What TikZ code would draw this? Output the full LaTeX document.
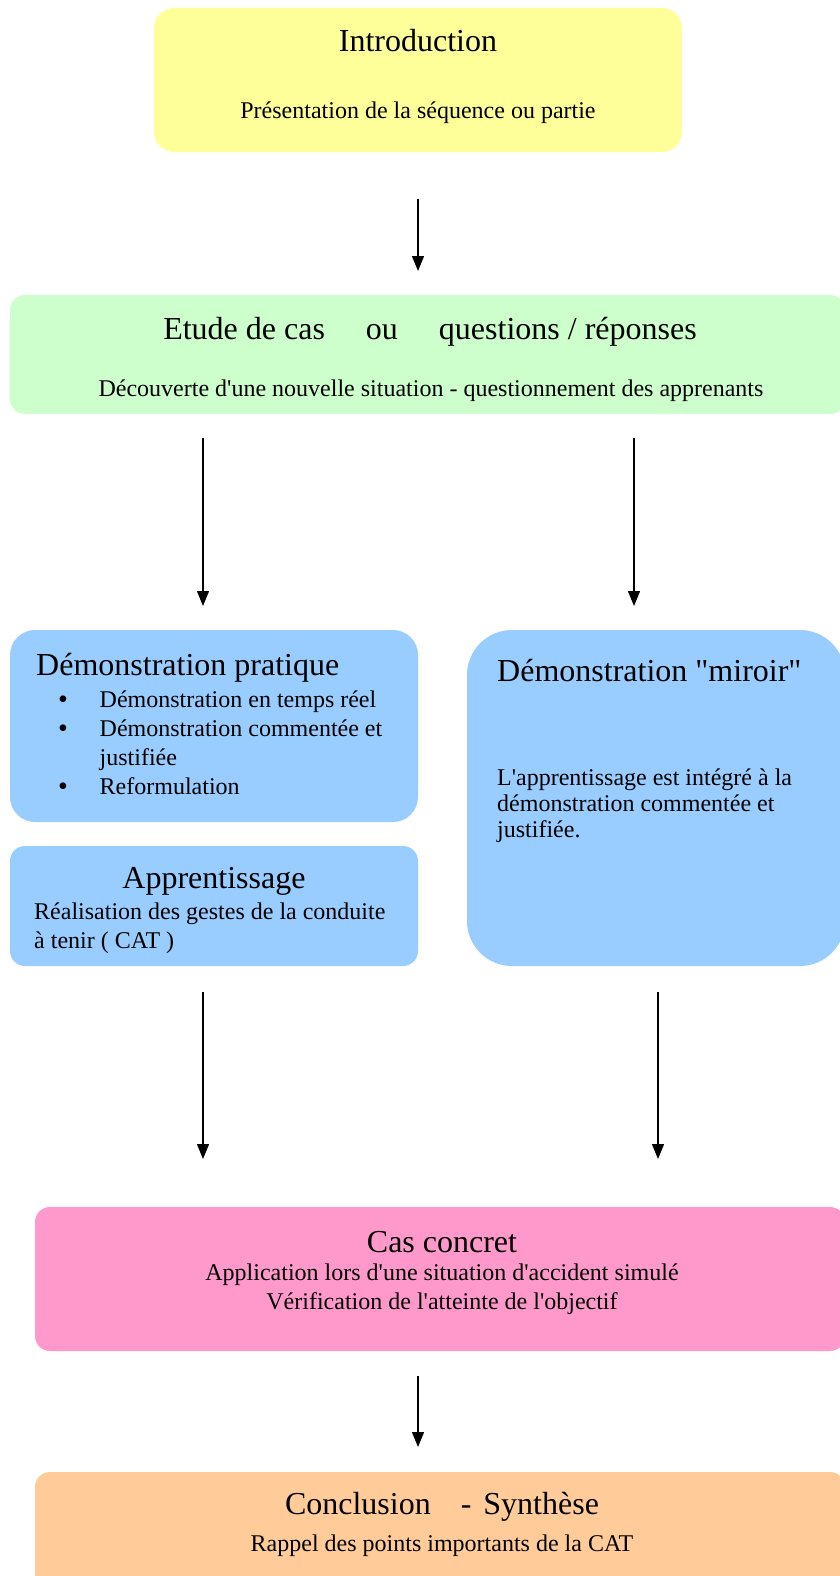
\documentclass[tikz,border=0pt]{standalone}
\usepackage{fontspec}
\setmainfont{Liberation Serif}[Ligatures=TeXOff]
\usetikzlibrary{arrows.meta,calc}
\definecolor{cyellow}{HTML}{FFFF99}
\definecolor{cgreen}{HTML}{CCFFCC}
\definecolor{cblue}{HTML}{99CCFF}
\definecolor{cpink}{HTML}{FF99CC}
\definecolor{corange}{HTML}{FFCC99}
\begin{document}
\begin{tikzpicture}[x=1pt,y=-1pt,
  box/.style={draw=none, rectangle, inner sep=0pt, outer sep=0pt},
  big/.style={font=\fontsize{32}{38}\selectfont, inner sep=0pt},
  small/.style={font=\fontsize{24}{29}\selectfont, inner sep=0pt},
  bul/.style={font=\fontsize{28}{29}\selectfont, inner sep=0pt, anchor=base},
  arr/.style={line width=1.3pt, -{Triangle[length=15pt,width=12pt]}}]
\useasboundingbox (0,0) rectangle (840,1576);
% boxes
\node[box, fill=cyellow, rounded corners=20pt, minimum width=528pt, minimum height=144pt] (intro) at (418,80) {};
\node[box, fill=cgreen, rounded corners=15pt, minimum width=835pt, minimum height=119pt] (etude) at (427.5,354.5) {};
\node[box, fill=cblue, rounded corners=25pt, minimum width=408pt, minimum height=192pt] (demo) at (214,726) {};
\node[box, fill=cblue, rounded corners=15pt, minimum width=408pt, minimum height=120pt] (appr) at (214,906) {};
\node[box, fill=cblue, rounded corners=45pt, minimum width=378pt, minimum height=336pt] (miroir) at (656,798) {};
\node[box, fill=cpink, rounded corners=15pt, minimum width=810pt, minimum height=144pt] (cas) at (440,1279) {};
\node[box, fill=corange, rounded corners=15pt, minimum width=810pt, minimum height=140pt] (concl) at (440,1542) {};
% texts
\node[big, anchor=base] (t1) at (418,52) {Introduction};
\node[small, anchor=base] (t2) at (418,118) {Présentation de la séquence ou partie};
\node[big, anchor=base] (t3) at (430,339) {Etude de cas\hspace{41pt}ou\hspace{41pt}questions / réponses};
\node[small, anchor=base] (t4) at (431,396) {Découverte d'une nouvelle situation - questionnement des apprenants};
\node[big, anchor=base west] (t5) at (36,675) {Démonstration pratique};
\node[bul] (b1) at (63,708) {•};
\node[bul] (b2) at (63,737) {•};
\node[bul] (b3) at (63,795) {•};
\node[small, anchor=base west] (l1) at (99.5,707) {Démonstration en temps réel};
\node[small, anchor=base west] (l2) at (99.5,736) {Démonstration commentée et};
\node[small, anchor=base west] (l3) at (99.5,765) {justifiée};
\node[small, anchor=base west] (l4) at (99.5,794) {Reformulation};
\node[big, anchor=base] (t6) at (214,888) {Apprentissage};
\node[small, anchor=base west] (l5) at (34,919) {Réalisation des gestes de la conduite};
\node[small, anchor=base west] (l6) at (34,948) {à tenir ( CAT )};
\node[big, anchor=base west] (t7) at (497,681) {Démonstration "miroir"};
\node[small, anchor=base west] (l7) at (497,785) {L'apprentissage est intégré à la};
\node[small, anchor=base west] (l8) at (497,811) {démonstration commentée et};
\node[small, anchor=base west] (l9) at (497,837) {justifiée.};
\node[big, anchor=base] (t8) at (442,1252) {Cas concret};
\node[small, anchor=base] (l10) at (442,1280) {Application lors d'une situation d'accident simulé};
\node[small, anchor=base] (l11) at (442,1309) {Vérification de l'atteinte de l'objectif};
\node[big, anchor=base] (t9) at (442,1514) {Conclusion\hspace{30pt}-\hspace{12pt}Synthèse};
\node[small, anchor=base] (l12) at (442,1551) {Rappel des points importants de la CAT};
% arrows
\coordinate (xl) at (203,0);
\coordinate (xr) at (634,0);
\coordinate (xr2) at (658,0);
\draw[arr] ($(intro.south)+(0,47)$) -- ($(intro.south |- etude.north)+(0,-24)$);
\draw[arr] ($(etude.south -| xl)+(0,24)$) -- ($(demo.north -| xl)+(0,-24)$);
\draw[arr] ($(etude.south -| xr)+(0,24)$) -- ($(miroir.north -| xr)+(0,-24)$);
\draw[arr] ($(appr.south -| xl)+(0,26)$) -- ($(cas.north -| xl)+(0,-48)$);
\draw[arr] ($(miroir.south -| xr2)+(0,26)$) -- ($(cas.north -| xr2)+(0,-48)$);
\draw[arr] ($(cas.south -| intro.south)+(0,25)$) -- ($(concl.north -| intro.south)+(0,-25)$);
\end{tikzpicture}
\end{document}
